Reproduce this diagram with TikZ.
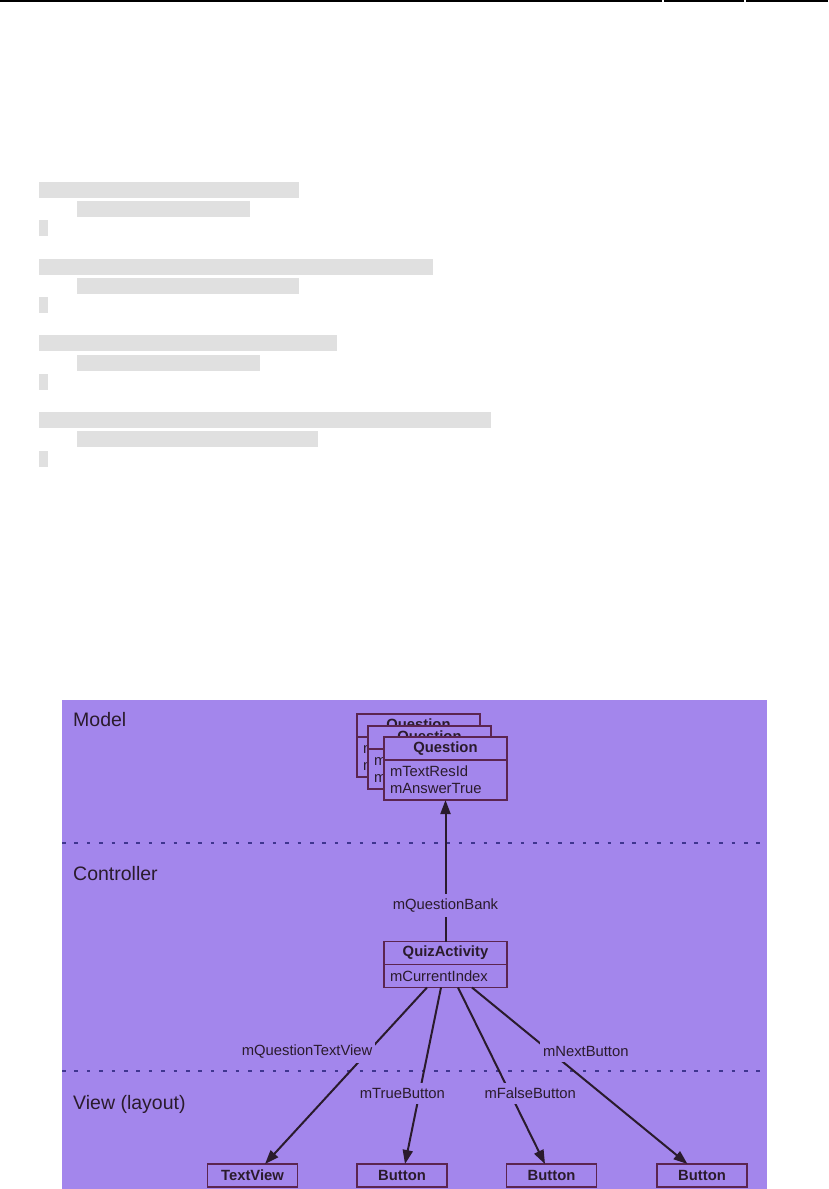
\documentclass[tikz,border=0pt]{standalone}
\usepackage{fontspec}
\setmainfont{Liberation Sans}
\usetikzlibrary{arrows.meta,positioning}
\definecolor{bg}{HTML}{A386EC}
\definecolor{ink}{HTML}{2A1B2C}
\definecolor{edge}{HTML}{5B2550}
\definecolor{dash}{HTML}{3F3590}
\definecolor{bar}{HTML}{E0E0E0}
\tikzset{head/.style={draw=edge,fill=bg,text=ink,font=\bfseries\fontsize{14.8}{17}\selectfont,minimum width=123pt,minimum height=23pt,inner sep=0pt,outer sep=0pt,line width=1.3pt}, body/.style={draw=edge,fill=bg,text=ink,font=\fontsize{14.8}{17}\selectfont,text width=111pt,align=left,inner xsep=6pt,inner ysep=3pt,outer sep=0pt,line width=1.3pt},view/.style={head,minimum width=90pt},lbl/.style={fill=bg,text=ink,font=\fontsize{14.8}{17}\selectfont,inner xsep=3pt,inner ysep=5pt},layer/.style={text=ink,font=\fontsize{19.5}{23}\selectfont,anchor=west,inner sep=0pt},arr/.style={-{Triangle[length=14pt,width=10pt]},line width=2pt,draw=ink},sep/.style={draw=dash,line width=2pt,dash pattern=on 3.5pt off 8.9pt}}

\begin{document}
\begin{tikzpicture}[x=1pt,y=-1pt]
\useasboundingbox(0,0)rectangle(828,1189);
% page rule and hidden code lines
\draw[line width=2pt](0,1)--(662,1);\draw[line width=2pt](664,1)--(744,1);\draw[line width=2pt](746,1)--(828,1);
\fill[bar](39,182)rectangle(299,198);\fill[bar](77,201)rectangle(250,217);\fill[bar](39,220)rectangle(48,236);
\fill[bar](39,259)rectangle(433,275);\fill[bar](77,278)rectangle(299,294);\fill[bar](39,297)rectangle(48,313);
\fill[bar](39,335)rectangle(337,351);\fill[bar](77,355)rectangle(260,371);\fill[bar](39,374)rectangle(48,390);
\fill[bar](39,412)rectangle(491,428);\fill[bar](77,431)rectangle(318,447);\fill[bar](39,451)rectangle(48,467);
% layers
\fill[bg](62,700)rectangle(767,1189);
\draw[sep](62,843)--(767,843);\draw[sep](62,1071)--(767,1071);
\node[layer](lm)at(73,720){Model};\node[layer](lc)at(73,874){Controller};\node[layer](lv)at(73,1104){View (layout)};
% model stack
\node[head](q1h)at(418.5,725.5){Question};\node[body,minimum height=40pt,below=0pt of q1h](q1b){mTextResId\\mAnswerTrue};
\node[head](q2h)at(429.5,737.5){Question};\node[body,minimum height=40pt,below=0pt of q2h](q2b){mTextResId\\mAnswerTrue};
\node[head](q3h)at(445.5,748.5){Question};\node[body,minimum height=40pt,below=0pt of q3h](q3b){mTextResId\\mAnswerTrue};
% controller
\node[head](qah)at(445.5,953){QuizActivity};\node[body,minimum height=23pt,below=0pt of qah](qab){mCurrentIndex};
% views
\node[view](tv)at(252.5,1175.5){TextView};\node[view](b1)at(402,1175.5){Button};\node[view](b2)at(551.5,1175.5){Button};\node[view](b3)at(702,1175.5){Button};
\draw[arr](qah.north)--node[lbl,pos=.254]{mQuestionBank}(q3b.south);
\draw[arr]([xshift=-18.5pt]qab.south)--node[lbl,pos=.362,anchor=east,xshift=8pt]{mQuestionTextView}([xshift=12.5pt]tv.north);
\draw[arr]([xshift=-4.5pt]qab.south)--node[lbl,pos=.6,xshift=-17pt]{mTrueButton}([xshift=3pt]b1.north);
\draw[arr]([xshift=12.5pt]qab.south)--node[lbl,pos=.6,xshift=20pt]{mFalseButton}([xshift=-6.5pt]b2.north);
\draw[arr]([xshift=26.5pt]qab.south)--node[lbl,pos=.362,anchor=west,xshift=-11pt]{mNextButton}([xshift=-14.5pt]b3.north);
\end{tikzpicture}
\end{document}
